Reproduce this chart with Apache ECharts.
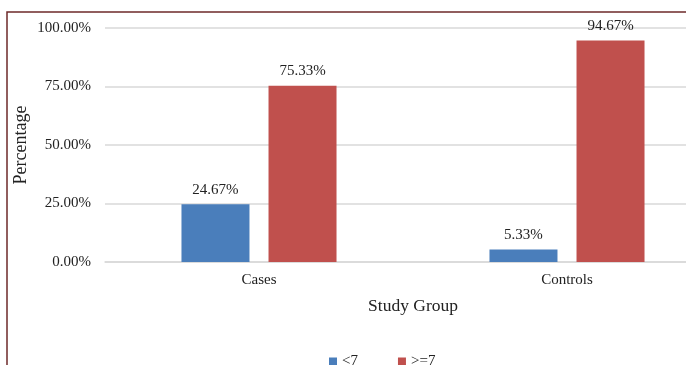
<!DOCTYPE html>
<html>
<head>
<meta charset="utf-8">
<script src="https://cdn.jsdelivr.net/npm/echarts@6/dist/echarts.min.js"></script>
<style>
html, body { margin: 0; padding: 0; background: #fff; }
#main { width: 686px; height: 365px; }
</style>
</head>
<body>
<div id="main"></div>
<script>
var groups = ['Cases', 'Controls'];
var below7 = [24.67, 5.33];
var atLeast7 = [75.33, 94.67];
var yTicks = [0, 25, 50, 75, 100];

var dom = document.getElementById("main");
var myChart = echarts.init(dom);
var font = '"Liberation Serif", "Times New Roman", serif';

var option = {
    animation: false,
    textStyle: { fontFamily: font },
    graphic: [{
        type: 'rect',
        shape: { x: 7, y: 12, width: 800, height: 500 },
        style: { fill: 'none', stroke: '#6e2a2a', lineWidth: 1.5 },
        z: 100
    }],
    legend: {
        data: ['<7', '>=7'],
        left: 324,
        top: 349,
        itemWidth: 8,
        itemHeight: 8,
        itemGap: 40,
        icon: 'rect',
        textStyle: { fontFamily: font, fontSize: 15, color: '#222' }
    },
    grid: {
        left: 105,
        width: 616,
        top: 28,
        bottom: 103,
        containLabel: false,
        outerBoundsMode: 'none'
    },
    xAxis: {
        type: 'category',
        data: groups,
        name: 'Study Group',
        nameLocation: 'middle',
        nameGap: 35,
        nameMoveOverlap: false,
        nameTextStyle: { fontFamily: font, fontSize: 17.5, color: '#222' },
        axisLine: { lineStyle: { color: '#d9d9d9', width: 1.5 } },
        axisTick: { show: false },
        axisLabel: { fontFamily: font, fontSize: 15, color: '#222', margin: 11 }
    },
    yAxis: {
        type: 'value',
        min: yTicks[0],
        max: yTicks[yTicks.length - 1],
        interval: 25,
        name: 'Percentage',
        nameLocation: 'middle',
        nameGap: 75,
        nameMoveOverlap: false,
        nameTextStyle: { fontFamily: font, fontSize: 18, color: '#222' },
        axisLine: { show: false },
        axisTick: { show: false },
        splitLine: { lineStyle: { color: '#d9d9d9', width: 1.5 } },
        axisLabel: {
            fontFamily: font, fontSize: 15, color: '#222', margin: 14,
            formatter: function (v) { return v.toFixed(2) + '%'; }
        }
    },
    series: [{
        name: '<7',
        type: 'bar',
        data: below7,
        barWidth: 68,
        barGap: '28%',
        itemStyle: { color: '#4a7ebb' },
        label: {
            show: true, position: 'top', distance: 7,
            fontFamily: font, fontSize: 15, color: '#222',
            formatter: function (p) { return p.value.toFixed(2) + '%'; }
        }
    }, {
        name: '>=7',
        type: 'bar',
        data: atLeast7,
        barWidth: 68,
        barGap: '28%',
        itemStyle: { color: '#c0504d' },
        label: {
            show: true, position: 'top', distance: 7,
            fontFamily: font, fontSize: 15, color: '#222',
            formatter: function (p) { return p.value.toFixed(2) + '%'; }
        }
    }]
};

if (option && typeof option === "object") {
    myChart.setOption(option, true);
}
</script>
</body>
</html>
